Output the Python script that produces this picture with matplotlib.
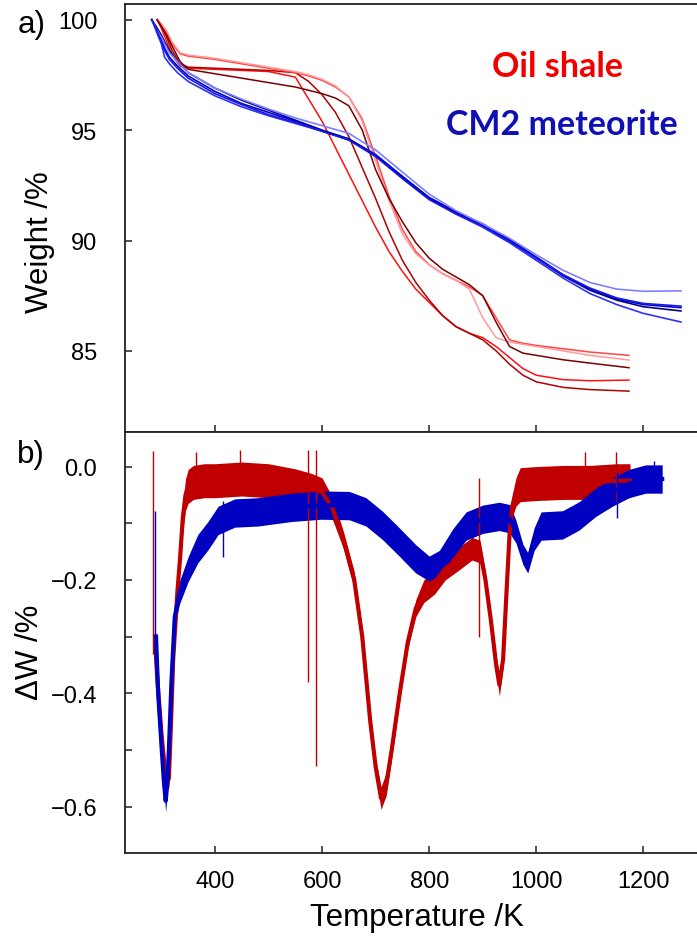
import matplotlib
matplotlib.use("Agg")
import matplotlib.pyplot as plt

plt.rcParams['font.family'] = ['Liberation Sans', 'DejaVu Sans']

# --- a) TG curves (weight %) ---
shale_T = [292, 300, 310, 320, 335, 350, 400, 450, 500, 550, 575, 600, 625, 650, 675, 700,
           725, 750, 775, 800, 825, 850, 875, 900, 925, 950, 975, 1000, 1050, 1100, 1173]
shale_a = [100, 99.6, 99.0, 98.4, 97.9, 97.8, 97.75, 97.7, 97.65, 97.4, 96.4, 95.4, 94.2, 93.0, 91.8, 90.6,
           89.5, 88.6, 87.8, 87.2, 86.6, 86.1, 85.8, 85.6, 85.2, 84.7, 84.2, 83.9, 83.7, 83.65, 83.68]
shale_b = [100, 99.7, 99.2, 98.6, 98.0, 97.85, 97.8, 97.75, 97.7, 97.6, 97.2, 96.6, 95.8, 94.7, 93.3, 91.9,
           90.4, 89.1, 88.1, 87.3, 86.6, 86.1, 85.8, 85.5, 85.0, 84.4, 83.9, 83.6, 83.35, 83.25, 83.18]
shale_c = [100, 99.8, 99.4, 98.9, 98.45, 98.35, 98.2, 98.0, 97.8, 97.6, 97.45, 97.25, 96.95, 96.5, 95.5, 93.8,
           92.0, 90.5, 89.5, 88.9, 88.5, 88.2, 87.9, 87.5, 86.5, 85.5, 85.35, 85.25, 85.1, 84.95, 84.80]
shale_d = [100, 99.8, 99.5, 99.0, 98.5, 98.4, 98.25, 98.05, 97.85, 97.65, 97.5, 97.3, 97.0, 96.5, 95.4, 93.6,
           91.8, 90.3, 89.4, 88.9, 88.5, 88.2, 87.8, 86.5, 85.6, 85.4, 85.3, 85.2, 85.0, 84.8, 84.59]
shale_e = [100, 99.7, 99.3, 98.8, 98.1, 97.75, 97.55, 97.35, 97.15, 96.95, 96.8, 96.65, 96.45, 96.1, 95.0, 93.2,
           91.9, 90.85, 89.9, 89.2, 88.7, 88.35, 88.0, 87.5, 86.3, 85.2, 84.9, 84.8, 84.6, 84.45, 84.24]

cm2_T = [282, 290, 300, 306, 315, 330, 350, 400, 450, 500, 550, 600, 650, 700, 750, 800,
         850, 900, 950, 1000, 1050, 1100, 1150, 1200, 1270]
cm2_a = [100, 99.5, 98.9, 98.3, 98.0, 97.6, 97.2, 96.55, 96.05, 95.65, 95.3, 94.95, 94.6, 93.9, 92.9, 91.9,
         91.2, 90.6, 89.9, 89.1, 88.3, 87.6, 87.1, 86.7, 86.31]
cm2_b = [100, 99.7, 99.3, 99.0, 98.6, 98.1, 97.6, 96.9, 96.35, 95.9, 95.45, 95.0, 94.6, 93.85, 92.85, 91.9,
         91.25, 90.7, 90.0, 89.2, 88.4, 87.75, 87.3, 87.0, 86.81]
cm2_c = [100, 99.6, 99.1, 98.7, 98.3, 97.9, 97.45, 96.75, 96.2, 95.8, 95.4, 94.95, 94.55, 93.85, 92.9, 91.95,
         91.3, 90.75, 90.05, 89.25, 88.45, 87.8, 87.35, 87.1, 86.96]
cm2_d = [100, 99.6, 99.2, 98.9, 98.5, 98.1, 97.6, 96.9, 96.4, 95.95, 95.55, 95.2, 94.85, 94.1, 93.1, 92.1,
         91.35, 90.75, 90.1, 89.35, 88.65, 88.1, 87.8, 87.7, 87.72]
cm2_e = [100, 99.6, 99.0, 98.6, 98.2, 97.8, 97.35, 96.65, 96.15, 95.7, 95.35, 94.95, 94.55, 93.8, 92.8, 91.85,
         91.2, 90.65, 89.95, 89.2, 88.45, 87.85, 87.4, 87.15, 87.03]

# --- b) DTG (delta W %), centre of the noisy trace and its half spread ---
dw_shale_T = [288, 292, 296, 300, 305, 310, 314, 318, 322, 326, 330, 335, 340, 345, 350, 360, 380, 400,
              450, 500, 550, 580, 600, 620, 640, 660, 675, 690, 700, 710, 720, 730, 745, 760, 775, 790,
              810, 830, 855, 880, 895, 905, 915, 925, 931, 938, 945, 950, 955, 962, 970, 1000, 1050,
              1100, 1150, 1175]
dw_shale = [-0.30, -0.37, -0.42, -0.47, -0.52, -0.56, -0.55, -0.45, -0.34, -0.28, -0.22, -0.16, -0.09,
            -0.05, -0.035, -0.028, -0.025, -0.025, -0.022, -0.025, -0.032, -0.04, -0.045, -0.075, -0.13,
            -0.20, -0.30, -0.45, -0.53, -0.585, -0.56, -0.50, -0.40, -0.31, -0.25, -0.22, -0.205, -0.18,
            -0.163, -0.145, -0.15, -0.20, -0.27, -0.35, -0.385, -0.34, -0.21, -0.12, -0.07, -0.045,
            -0.032, -0.03, -0.028, -0.028, -0.025, -0.025]
dw_shale_spread = [0.01, 0.01, 0.01, 0.01, 0.01, 0.015, 0.015, 0.01, 0.01, 0.01, 0.015, 0.02, 0.025,
                   0.028, 0.03, 0.03, 0.03, 0.03, 0.03, 0.03, 0.028, 0.028, 0.025, 0.02, 0.015, 0.015,
                   0.012, 0.012, 0.015, 0.02, 0.02, 0.015, 0.012, 0.012, 0.015, 0.02, 0.02, 0.02, 0.02,
                   0.02, 0.02, 0.015, 0.012, 0.015, 0.02, 0.015, 0.012, 0.015, 0.02, 0.025, 0.03, 0.03,
                   0.03, 0.03, 0.03, 0.03]

dw_cm2_T = [290, 294, 300, 305, 308, 311, 314, 319, 325, 334, 350, 368, 387, 406, 437, 480, 543, 598,
            651, 682, 713, 744, 775, 800, 819, 844, 869, 900, 931, 950, 962, 975, 984, 996, 1009, 1049,
            1080, 1111, 1142, 1173, 1204, 1235]
dw_cm2 = [-0.30, -0.40, -0.49, -0.56, -0.59, -0.56, -0.50, -0.375, -0.265, -0.222, -0.181, -0.145,
          -0.122, -0.095, -0.082, -0.08, -0.072, -0.068, -0.069, -0.08, -0.104, -0.133, -0.163, -0.18,
          -0.17, -0.135, -0.105, -0.093, -0.088, -0.092, -0.115, -0.155, -0.17, -0.128, -0.105, -0.103,
          -0.087, -0.063, -0.045, -0.03, -0.022, -0.022]
dw_cm2_spread = [0.01, 0.01, 0.01, 0.015, 0.02, 0.015, 0.01, 0.01, 0.015, 0.02, 0.022, 0.025, 0.025,
                 0.025, 0.025, 0.025, 0.025, 0.025, 0.025, 0.025, 0.025, 0.025, 0.025, 0.022, 0.022,
                 0.025, 0.025, 0.025, 0.025, 0.025, 0.02, 0.018, 0.018, 0.02, 0.025, 0.025, 0.025,
                 0.025, 0.025, 0.025, 0.025, 0.025]

# single-point glitches seen in the traces: (T, top, bottom)
shale_spikes = [(285, 0.028, -0.33), (574, 0.03, -0.38), (589, 0.03, -0.528), (893, -0.02, -0.30),
                (447, 0.03, -0.02), (365, 0.025, -0.02), (1148, 0.025, -0.06), (1090, 0.025, -0.02)]
cm2_spikes = [(288, -0.078, -0.35), (415, -0.06, -0.16), (1220, 0.01, -0.04), (1150, -0.01, -0.09)]

red_cols = ['#ff1010', '#b00000', '#ff4545', '#ff9a9a', '#7a0000']
blue_cols = ['#3030ff', '#000090', '#0000c8', '#7f7fff', '#1a1ae6']

W, H = 697, 937
fig = plt.figure(figsize=(W / 100, H / 100), dpi=100)
ax1 = fig.add_axes([0.1793, 0.5379, 0.8207, 0.4568])
ax2 = fig.add_axes([0.1793, 0.0886, 0.8207, 0.4493])

for w, c in zip([shale_a, shale_b, shale_c, shale_d, shale_e], red_cols):
    ax1.plot(shale_T, w, color=c, lw=1.1)
for w, c in zip([cm2_a, cm2_b, cm2_c, cm2_d, cm2_e], blue_cols):
    ax1.plot(cm2_T, w, color=c, lw=1.2)

ax1.set_xlim(232, 1300)
ax1.set_ylim(81.33, 100.71)
ax1.set_yticks([85, 90, 95, 100])
ax1.set_xticks([400, 600, 800, 1000, 1200])
ax1.set_xticklabels([])

# red drawn first, blue sits over it
lo = [m - s for m, s in zip(dw_shale, dw_shale_spread)]
hi = [m + s for m, s in zip(dw_shale, dw_shale_spread)]
ax2.fill_between(dw_shale_T, lo, hi, color='#c00000', lw=0)
ax2.plot(dw_shale_T, dw_shale, color='#c00000', lw=3)
for t, top, bot in shale_spikes:
    ax2.vlines(t, bot, top, color='#c00000', lw=1)

lo = [m - s for m, s in zip(dw_cm2, dw_cm2_spread)]
hi = [m + s for m, s in zip(dw_cm2, dw_cm2_spread)]
ax2.fill_between(dw_cm2_T, lo, hi, color='#0000c0', lw=0)
ax2.plot(dw_cm2_T, dw_cm2, color='#0000c0', lw=3)
for t, top, bot in cm2_spikes:
    ax2.vlines(t, bot, top, color='#0000c0', lw=1)

ax2.set_xlim(232, 1300)
ax2.set_ylim(-0.682, 0.061)
ax2.set_xticks([400, 600, 800, 1000, 1200])
ax2.set_yticks([-0.6, -0.5, -0.4, -0.3, -0.2, -0.1, 0.0])
ax2.set_yticklabels(['\u22120.6', '', '\u22120.4', '', '\u22120.2', '', '0.0'])

for ax in (ax1, ax2):
    ax.spines['right'].set_visible(False)
    for s in ('left', 'bottom', 'top'):
        ax.spines[s].set_linewidth(1.3)
        ax.spines[s].set_color('#222222')
    ax.tick_params(direction='in', length=5, width=1.1, labelsize=17, color='#222222')
    ax.tick_params(axis='y', pad=20)
    ax.tick_params(axis='x', pad=12)

fig.text(557 / W, 1 - 67 / H, 'Oil shale', color='#f20000', fontsize=24.5, fontweight='bold',
         family=['Lato', 'DejaVu Sans'], ha='center', va='center')
fig.text(562 / W, 1 - 125 / H, 'CM2 meteorite', color='#1010b4', fontsize=24.5, fontweight='bold',
         family=['Lato', 'DejaVu Sans'], ha='center', va='center')

fig.text(40 / W, 1 - 242 / H, 'Weight /%', rotation=90, fontsize=22.5, ha='center', va='center')
fig.text(30 / W, 1 - 652 / H, '\u0394W /%', rotation=90, fontsize=22.5, ha='center', va='center')
fig.text(417 / W, 1 - 918 / H, 'Temperature /K', fontsize=22.5, ha='center', va='center')
fig.text(32 / W, 1 - 25 / H, 'a)', fontsize=22.5, ha='center', va='center')
fig.text(31 / W, 1 - 455 / H, 'b)', fontsize=22.5, ha='center', va='center')

fig.savefig('out.png', dpi=100)
